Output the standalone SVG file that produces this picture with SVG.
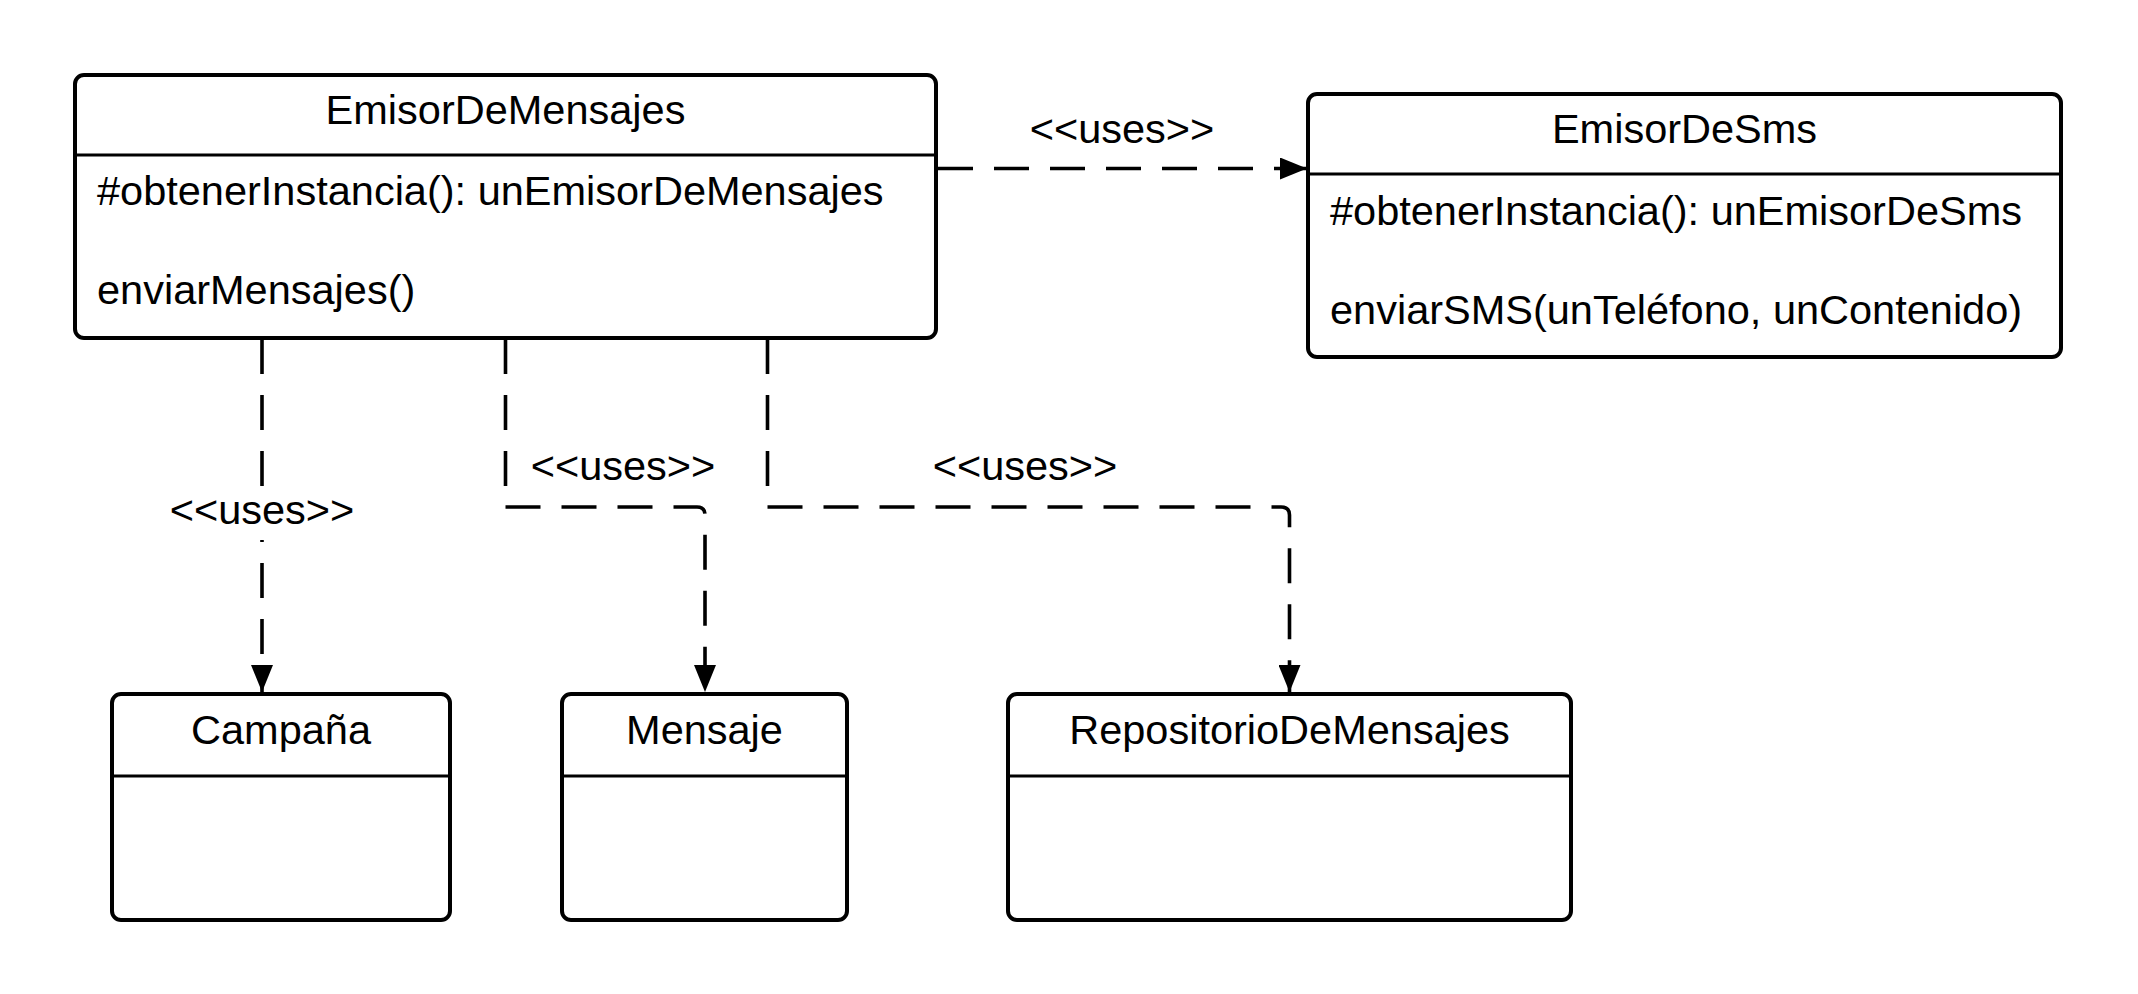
<svg xmlns="http://www.w3.org/2000/svg" width="2138" height="994" viewBox="0 0 2138 994">
<style>
.box{fill:#fff;stroke:#000;stroke-width:4}
.div{stroke:#000;stroke-width:3}
.t{font-family:"Liberation Sans",Arial,sans-serif;font-size:41.5px;fill:#000}
.c{text-anchor:middle}
.conn{fill:none;stroke:#000;stroke-width:3.6;stroke-dasharray:35 21;stroke-linejoin:round}
</style>
<defs>
<marker id="arrow" viewBox="0 0 27 22" refX="27" refY="11" markerWidth="27" markerHeight="22" markerUnits="userSpaceOnUse" orient="auto">
<path d="M0,0 L27,11 L0,22 z" fill="#000"/>
</marker>
</defs>
<rect width="2138" height="994" fill="#fff"/>
<g id="connectors">
<path class="conn" d="M938,168.5 H1307" marker-end="url(#arrow)"/>
<text class="t c" x="1122" y="143">&lt;&lt;uses&gt;&gt;</text>
<path class="conn" d="M262,339 V692" marker-end="url(#arrow)"/>
<rect x="168" y="488" width="188" height="52" fill="#fff"/>
<text class="t c" x="262" y="524">&lt;&lt;uses&gt;&gt;</text>
<path class="conn" d="M505.5,339 V507 H697 Q705,507 705,515 V692" marker-end="url(#arrow)"/>
<text class="t c" x="623" y="480">&lt;&lt;uses&gt;&gt;</text>
<path class="conn" d="M767.5,339 V507 H1281 Q1289.5,507 1289.5,515 V692" marker-end="url(#arrow)"/>
<text class="t c" x="1025" y="480">&lt;&lt;uses&gt;&gt;</text>
</g>
<g id="EmisorDeMensajes">
<rect class="box" x="75" y="75" width="861" height="263" rx="9"/>
<line class="div" x1="75" y1="155" x2="936" y2="155"/>
<text class="t c" x="505.5" y="124">EmisorDeMensajes</text>
<text class="t" x="97" y="205">#obtenerInstancia(): unEmisorDeMensajes</text>
<text class="t" x="97" y="304">enviarMensajes()</text>
</g>
<g id="EmisorDeSms">
<rect class="box" x="1308" y="94" width="753" height="263" rx="9"/>
<line class="div" x1="1308" y1="174" x2="2061" y2="174"/>
<text class="t c" x="1684.5" y="143">EmisorDeSms</text>
<text class="t" x="1330" y="225">#obtenerInstancia(): unEmisorDeSms</text>
<text class="t" x="1330" y="324">enviarSMS(unTeléfono, unContenido)</text>
</g>
<g id="Campana">
<rect class="box" x="112" y="694" width="338" height="226" rx="9"/>
<line class="div" x1="112" y1="776" x2="450" y2="776"/>
<text class="t c" x="281" y="744">Campaña</text>
</g>
<g id="Mensaje">
<rect class="box" x="562" y="694" width="285" height="226" rx="9"/>
<line class="div" x1="562" y1="776" x2="847" y2="776"/>
<text class="t c" x="704.5" y="744">Mensaje</text>
</g>
<g id="RepositorioDeMensajes">
<rect class="box" x="1008" y="694" width="563" height="226" rx="9"/>
<line class="div" x1="1008" y1="776" x2="1571" y2="776"/>
<text class="t c" x="1289.5" y="744">RepositorioDeMensajes</text>
</g>
</svg>
